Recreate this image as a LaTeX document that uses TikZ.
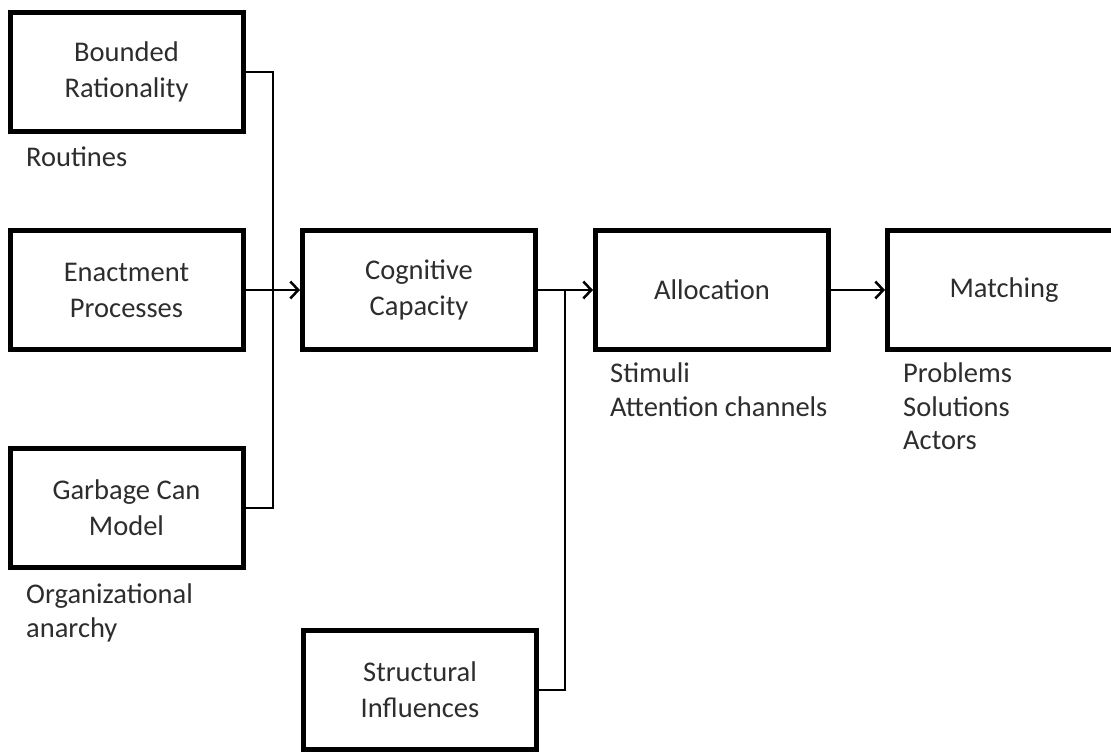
\documentclass[tikz,border=0pt]{standalone}
\usepackage{fontspec}
\setmainfont{Carlito}
\usetikzlibrary{arrows.meta}
\definecolor{txt}{RGB}{45,45,45}

\begin{document}
\begin{tikzpicture}[x=1pt,y=-1pt,
    box/.style={draw=black,line width=5pt,minimum width=233pt,minimum height=119pt,inner sep=0pt,align=center,text=txt,font=\fontsize{28.5}{36}\selectfont},
    lab/.style={anchor=north west,inner sep=0pt,align=left,text=txt,font=\fontsize{28.5}{33.5}\selectfont},
    con/.style={line width=2.5pt},
    arr/.style={line width=2.5pt,-{Straight Barb[length=8pt,width=17pt,line width=2.5pt]}}]
                \clip (0,0) rectangle (1111,754);

                \node[box] (br) at (126.5,72) {Bounded\\Rationality};
                \node[box] (ep) at (126.5,290) {Enactment\\Processes};
                \node[box] (gc) at (126.5,508) {Garbage Can\\Model};
                \node[box] (cc) at (419,290) {Cognitive\\Capacity};
                \node[box] (si) at (420,690) {Structural\\Influences};
                \node[box] (al) at (712,290) {Allocation};
                \node[box] (ma) at (1004,290) {Matching};

                \node[lab] (rt) at (26,147) {Routines};
                \node[lab] (oa) at (26,584) {Organizational\\anarchy};
                \node[lab] (st) at (610,363) {Stimuli\\Attention channels};
                \node[lab] (pr) at (903,363) {Problems\\Solutions\\Actors};

                \coordinate (bus) at (273,290);
                \coordinate (join) at (565,290);

                \draw [con] (br.east) -| (bus);
                \draw [con] (gc.east) -| (bus);
                \draw [arr] (ep) -- (cc);
                \draw [con] (si.east) -| (join);
                \draw [arr] (cc) -- (al);
                \draw [arr] (al) -- (ma);
            \end{tikzpicture}
\end{document}
